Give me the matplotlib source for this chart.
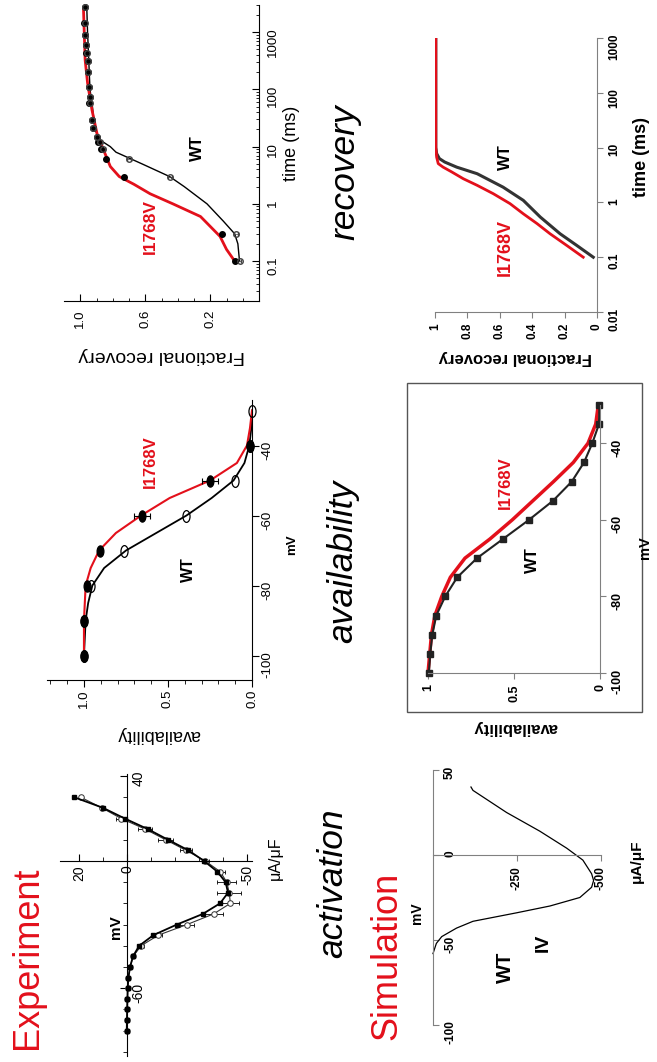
import numpy as np
import matplotlib.pyplot as plt
from matplotlib.patches import Rectangle
from matplotlib.path import Path
from matplotlib.transforms import Affine2D
from matplotlib.ticker import LogLocator, NullFormatter

plt.rcParams['font.family'] = ['Liberation Sans', 'DejaVu Sans']

RED = '#e3101b'
GREY = '#808080'

# experiment, activation (I-V)
iv_mv = [-80, -75, -70, -65, -60, -55, -50, -45, -40, -35, -30, -25, -20,
         -15, -10, -5, 0, 5, 10, 15, 20, 25, 30]
iv_wt = [0, 0, 0, -0.1, -0.2, -0.5, -1.2, -2.5, -5.8, -13, -24.9, -36, -43,
         -42.5, -41.5, -38.7, -32.5, -24.5, -16, -7.5, 2.5, 10.5, 19.3]
iv_wt_err = [0, 0, 0, 0, 0, 0, 0.3, 0.5, 1, 1.5, 3, 4, 3.5, 5, 4, 2, 1.5,
             2.5, 3, 3, 2, 1, 0.5]
iv_mut = [0.2, 0.1, 0, -0.1, -0.2, -0.5, -1.2, -2.4, -5, -10.9, -20.7, -31.5,
          -38.7, -42, -41, -37.5, -32, -25.5, -17, -8.6, 1, 10, 22]

# experiment, availability
av_mv = [-100, -90, -80, -70, -60, -50, -40, -30]
av_wt = [1.0, 1.0, 0.96, 0.76, 0.39, 0.10, 0.01, 0.0]
av_mut_mv = [-100, -90, -80, -70, -60, -50, -40]
av_mut = [1.0, 1.0, 0.98, 0.905, 0.655, 0.25, 0.01]
av_mut_err = [0, 0, 0.01, 0.01, 0.045, 0.05, 0.01]
avfit_mv = [-100, -95, -90, -85, -80, -75, -70, -65, -60, -55, -50, -45, -40,
            -35, -30]
avfit_wt = [1.0, 0.995, 0.99, 0.975, 0.95, 0.88, 0.75, 0.57, 0.39, 0.24, 0.11,
            0.045, 0.016, 0.004, 0.0]
avfit_mut = [1.0, 1.0, 1.0, 0.995, 0.99, 0.96, 0.91, 0.81, 0.66, 0.49, 0.25,
             0.09, 0.03, 0.012, 0.0]

# experiment, recovery
rec_t = [0.1, 0.3, 3, 6, 9, 12, 15, 21, 29, 58, 75, 112, 206, 310, 430, 600,
         900, 1450, 2800]
rec_wt = [0.02, 0.04, 0.45, 0.70, 0.86, 0.88, 0.90, 0.92, 0.93, 0.94, 0.94,
          0.945, 0.95, 0.955, 0.96, 0.965, 0.97, 0.97, 0.97]
rec_mut = [0.05, 0.13, 0.73, 0.84, 0.87, 0.89, 0.90, 0.92, 0.93, 0.945, 0.94,
           0.945, 0.95, 0.955, 0.965, 0.965, 0.97, 0.975, 0.97]
recfit_t = [0.1, 0.2, 0.3, 0.5, 1, 2, 3, 5, 8, 10, 13, 20, 50, 100, 1000, 2800]
recfit_wt = [0.02, 0.03, 0.05, 0.12, 0.22, 0.36, 0.45, 0.62, 0.78, 0.815,
             0.877, 0.91, 0.925, 0.94, 0.955, 0.96]
recfit_t_mut = [0.1, 0.16, 0.27, 0.6, 1.0, 1.5, 2.2, 3.0, 4.5, 8.8, 17, 44,
                130, 330, 2500]
recfit_mut = [0.05, 0.10, 0.14, 0.26, 0.43, 0.57, 0.67, 0.76, 0.815, 0.857,
              0.897, 0.928, 0.955, 0.97, 0.98]

# simulation, activation (I-V)
siv_mv = [-58, -52, -48, -43, -39, -34, -30, -25, -19, -15, -11, -3, 4, 14,
          25, 38, 40]
siv_i = [0, -10, -26, -70, -119, -249, -348, -437, -472, -478, -472, -446,
         -398, -318, -219, -119, -113]

# simulation, availability
sav_mv = [-100, -95, -90, -85, -80, -75, -70, -65, -60, -55, -50, -45, -40,
          -35, -30]
sav_wt = [0.995, 0.987, 0.975, 0.952, 0.90, 0.83, 0.715, 0.564, 0.413, 0.273,
          0.164, 0.093, 0.045, 0.006, 0.003]
sav_mut = [1.0, 0.99, 0.98, 0.96, 0.92, 0.87, 0.785, 0.64, 0.51, 0.39, 0.27,
           0.155, 0.07, 0.025, 0.01]

# simulation, recovery
sr_t = [0.1, 0.164, 0.268, 0.54, 1.09, 1.9, 3.34, 4.4, 5.45, 6.3, 7.8, 10,
        1000]
sr_wt = [0.023, 0.125, 0.228, 0.35, 0.455, 0.58, 0.74, 0.866, 0.94, 0.973,
         0.99, 0.995, 0.995]
sr_t_mut = [0.1, 0.164, 0.268, 0.41, 0.62, 0.95, 1.44, 2.05, 2.7, 3.6, 4.4,
            5.1, 6.7, 10, 1000]
sr_mut = [0.085, 0.187, 0.29, 0.37, 0.455, 0.537, 0.64, 0.74, 0.825, 0.897,
          0.95, 0.98, 0.99, 0.995, 0.995]


W, H = 657, 1062
fig = plt.figure(figsize=(W / 100, H / 100), dpi=100)

# tall ellipse marker, like the squeezed circles of the scanned panel
ELL = Path.unit_circle().transformed(Affine2D().scale(0.6, 1.0))


def panel(x0, y0, x1, y1):
    # pixel box of the image (origin top-left)
    ax = fig.add_axes([x0 / W, 1 - y1 / H, (x1 - x0) / W, (y1 - y0) / H])
    ax.patch.set_alpha(0)
    return ax


def txt(x, y, s, rot=90, **kw):
    fig.text(x / W, 1 - y / H, s, rotation=rot, ha='center', va='center', **kw)


def lshape(ax, color='black'):
    ax.spines['top'].set_visible(False)
    ax.spines['left'].set_visible(False)
    ax.spines['right'].set_color(color)
    ax.spines['bottom'].set_color(color)
    ax.yaxis.tick_right()
    ax.tick_params(which='both', labelrotation=90, colors=color,
                   labelcolor='black')


# ---------------- experiment activation ----------------
ax = panel(60, 774, 252, 1056)
ax.set_xlim(28, -52)
ax.set_ylim(-92, 41)
lshape(ax)
ax.spines['right'].set_position(('data', 0))
ax.spines['bottom'].set_position(('data', 0))
ax.set_xticks([20, 0, -50], labels=['20', '0', '-50'])
ax.set_xticks(np.arange(-50, 21, 10), minor=True)
ax.set_yticks([40, -60], labels=['40', '-60'])
ax.set_yticks(np.arange(-90, 41, 10), minor=True)
ax.tick_params(which='both', direction='in', labelsize=10, pad=3)
ax.tick_params(which='major', length=5)
ax.tick_params(which='minor', length=3)
ax.errorbar(iv_wt, iv_mv, xerr=iv_wt_err, fmt='none', ecolor='black',
            elinewidth=0.6, capsize=1.5, capthick=0.6)
ax.plot(iv_wt, iv_mv, '-o', color='#333333', lw=0.8, ms=4, mfc='white',
        mec='#333333', mew=0.7, clip_on=False)
ax.plot(iv_mut, iv_mv, '-s', color='black', lw=1.3, ms=3.5, clip_on=False)
txt(116, 927, 'mV', fontsize=11, fontweight='bold')
txt(275, 858, 'μA/μF', fontsize=11.5)

# ---------------- experiment availability ----------------
ax = panel(47, 400, 252, 680)
ax.set_xlim(1.22, 0)
ax.set_ylim(-107, -27)
lshape(ax)
ax.set_xticks([1.0, 0.5, 0.0], labels=['1.0', '0.5', '0.0'])
ax.set_xticks(np.arange(0, 1.21, 0.1), minor=True)
ax.set_yticks([-100, -80, -60, -40], labels=['-100', '-80', '-60', '-40'])
ax.tick_params(which='both', direction='out', labelsize=9.5, pad=2)
ax.tick_params(which='major', length=5)
ax.tick_params(which='minor', length=3)
ax.plot(avfit_wt, avfit_mv, color='black', lw=1.3)
ax.plot(avfit_mut, avfit_mv, color=RED, lw=1.5)
ax.errorbar(av_mut, av_mut_mv, xerr=av_mut_err, fmt='none', ecolor='black',
            elinewidth=0.8, capsize=2.5, capthick=0.8)
ax.plot(av_mut, av_mut_mv, marker=ELL, ls='none', color='black', ms=8,
        clip_on=False)
ax.plot(av_wt, av_mv, marker=ELL, ls='none', ms=8.5, mfc='none', mec='black',
        mew=0.9, clip_on=False)
txt(188, 570, 'WT', fontsize=11.5, fontweight='bold')
txt(150, 462, 'I1768V', fontsize=12, fontweight='bold', color=RED)
txt(292, 545, 'mV', fontsize=9.5, fontweight='bold')
txt(158, 735, 'availability', rot=180, fontsize=13)

# ---------------- experiment recovery ----------------
ax = panel(64, 5, 259, 301)
ax.set_yscale('log')
ax.set_xlim(1.1, -0.1)
ax.set_ylim(0.02, 3000)
lshape(ax)
ax.set_xticks([1.0, 0.6, 0.2], labels=['1.0', '0.6', '0.2'])
ax.set_xticks(np.arange(0, 1.01, 0.1), minor=True)
ax.set_yticks([0.1, 1, 10, 100, 1000], labels=['0.1', '1', '10', '100', '1000'])
ax.yaxis.set_minor_locator(LogLocator(subs=np.arange(2, 10)))
ax.yaxis.set_minor_formatter(NullFormatter())
ax.tick_params(which='both', direction='in', labelsize=9.5, pad=6)
ax.tick_params(which='major', length=5)
ax.tick_params(which='minor', length=2.5)
ax.plot(recfit_wt, recfit_t, color='black', lw=1)
ax.plot(recfit_mut, recfit_t_mut, color=RED, lw=2)
ax.errorbar(rec_wt, rec_t, xerr=0.012, fmt='o', ms=4, mfc='none',
            mec='#444444', ecolor='#444444', elinewidth=0.5, capsize=1.5,
            clip_on=False)
ax.plot(rec_mut, rec_t, 'o', ms=4, color='black', clip_on=False)
txt(197, 148, 'WT', fontsize=12, fontweight='bold')
txt(150, 227, 'I1768V', fontsize=12.5, fontweight='bold', color=RED)
txt(292, 143, 'time (ms)', fontsize=13)
txt(162, 356, 'Fractional recovery', rot=180, fontsize=14)

# ---------------- simulation activation ----------------
ax = panel(433, 770, 601, 1025)
ax.set_xlim(0, -500)
ax.set_ylim(-100, 50)
lshape(ax, GREY)
ax.spines['right'].set_position(('data', 0))
ax.spines['bottom'].set_position(('data', 0))
ax.set_xticks([-250, -500], labels=['-250', '-500'])
ax.set_yticks([50, 0, -50, -100], labels=['50', '0', '-50', '-100'])
ax.tick_params(which='both', direction='out', length=4, labelsize=8.5,
               pad=4)
for t in ax.get_xticklabels() + ax.get_yticklabels():
    t.set_fontweight('bold')
ax.plot(siv_i, siv_mv, color='black', lw=0.9, clip_on=False)
txt(505, 967, 'WT', fontsize=14.5, fontweight='bold')
txt(543, 943, 'IV', fontsize=14, fontweight='bold')
txt(417, 913, 'mV', fontsize=10, fontweight='bold')
txt(637, 861, 'μA/μF', fontsize=11, fontweight='bold')

# ---------------- simulation availability ----------------
fig.add_artist(Rectangle((407 / W, 1 - 712 / H), (642 - 407) / W,
                         (712 - 383) / H, transform=fig.transFigure,
                         fill=False, ec='#555555', lw=1))
ax = panel(428, 405, 600, 673)
ax.set_xlim(1, 0)
ax.set_ylim(-100, -30)
lshape(ax, GREY)
ax.set_xticks([1, 0.5, 0], labels=['1', '0.5', '0'])
ax.set_yticks([-100, -80, -60, -40], labels=['-100', '-80', '-60', '-40'])
ax.tick_params(which='both', direction='out', length=4, labelsize=9,
               pad=4)
for t in ax.get_xticklabels() + ax.get_yticklabels():
    t.set_fontweight('bold')
ax.plot(sav_mut, sav_mv, color=RED, lw=2.5, clip_on=False)
ax.plot(sav_wt, sav_mv, '-s', color='#222222', lw=1.5, ms=5,
        clip_on=False)
txt(532, 560, 'WT', fontsize=12, fontweight='bold')
txt(505, 483, 'I1768V', fontsize=12, fontweight='bold', color=RED)
txt(645, 548, 'mV', fontsize=10.5, fontweight='bold')
txt(515, 727, 'availability', rot=180, fontsize=12, fontweight='bold')

# ---------------- simulation recovery ----------------
ax = panel(435, 38, 597, 312)
ax.set_yscale('log')
ax.set_xlim(1, 0)
ax.set_ylim(0.01, 1000)
lshape(ax, GREY)
ax.set_xticks([1, 0.8, 0.6, 0.4, 0.2, 0],
              labels=['1', '0.8', '0.6', '0.4', '0.2', '0'])
ax.set_yticks([0.01, 0.1, 1, 10, 100, 1000],
              labels=['0.01', '0.1', '1', '10', '100', '1000'])
ax.yaxis.set_minor_locator(LogLocator(subs=[]))
ax.tick_params(which='both', direction='out', length=4, labelsize=8.5,
               pad=4)
for t in ax.get_xticklabels() + ax.get_yticklabels():
    t.set_fontweight('bold')
ax.plot(sr_wt, sr_t, color='#333333', lw=2.2)
ax.plot(sr_mut, sr_t_mut, color=RED, lw=2)
txt(505, 157, 'WT', fontsize=12, fontweight='bold')
txt(505, 247, 'I1768V', fontsize=13, fontweight='bold', color=RED)
txt(642, 157, 'time (ms)', fontsize=13, fontweight='bold')
txt(515, 357, 'Fractional recovery', rot=180, fontsize=12,
    fontweight='bold')

# ---------------- row and column titles ----------------
txt(28, 958, 'Experiment', fontsize=26, color=RED)
txt(387, 956, 'Simulation', fontsize=26, color=RED)
txt(333, 883, 'activation', fontsize=25.5, style='italic')
txt(343, 561, 'availability', fontsize=25.5, style='italic')
txt(345, 172, 'recovery', fontsize=25.5, style='italic')

fig.savefig('out.png', dpi=100)
